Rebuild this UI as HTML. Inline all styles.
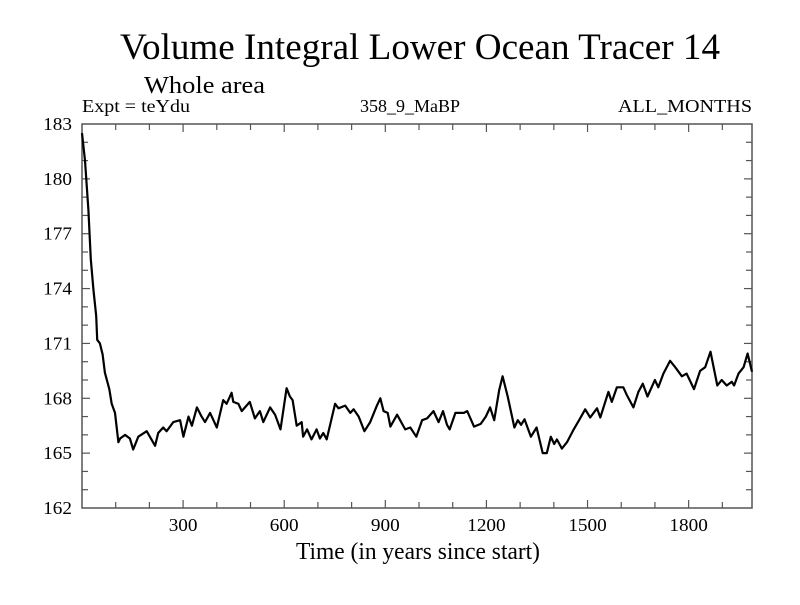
<!DOCTYPE html>
<html><head><meta charset="utf-8"><style>
body{margin:0;background:#fff;}
svg text{font-family:"Liberation Serif",serif;fill:#000;}
</style></head><body>
<svg id="chart" width="800" height="600" viewBox="0 0 800 600">
<text x="120" y="59" font-size="37" textLength="600" lengthAdjust="spacingAndGlyphs">Volume Integral Lower Ocean Tracer 14</text>
<text x="144" y="93" font-size="24" textLength="121" lengthAdjust="spacingAndGlyphs">Whole area</text>
<text x="82" y="112" font-size="18" textLength="108" lengthAdjust="spacingAndGlyphs">Expt = teYdu</text>
<text x="360" y="112" font-size="18" textLength="100" lengthAdjust="spacingAndGlyphs">358_9_MaBP</text>
<text x="618" y="112" font-size="18" textLength="134" lengthAdjust="spacingAndGlyphs">ALL_MONTHS</text>
<text x="296" y="559" font-size="24" textLength="244" lengthAdjust="spacingAndGlyphs">Time (in years since start)</text>
<g id="axes"></g>
<rect x="82" y="124" width="670" height="384" fill="none" stroke="#555" stroke-width="1.5"/>
<path id="series" fill="none" stroke="#000" stroke-width="2.2" stroke-linejoin="round"/>
</svg>
<script>
const years=[0,9,19,26,34,42,45,53,61,68,81,88,98,108,113,128,142,152,167,192,217,226,241,251,271,291,301,316,326,341,355,365,380,400,419,429,444,449,464,474,498,513,528,538,558,573,589,607,617,625,637,652,656,668,681,696,706,716,726,751,761,781,796,806,821,838,855,875,885,895,907,915,935,959,974,992,1009,1024,1043,1058,1071,1083,1091,1108,1133,1143,1163,1183,1198,1211,1223,1238,1248,1263,1283,1293,1303,1313,1332,1349,1367,1379,1391,1401,1409,1424,1439,1459,1478,1493,1508,1528,1538,1562,1572,1587,1606,1616,1636,1651,1664,1678,1700,1710,1725,1745,1760,1780,1794,1816,1834,1849,1865,1885,1898,1913,1928,1935,1948,1963,1975,1988];
const values=[182.5,181.0,178.3,175.6,173.9,172.5,171.2,171.0,170.4,169.4,168.5,167.7,167.2,165.6,165.8,166.0,165.8,165.2,165.9,166.2,165.4,166.1,166.4,166.2,166.7,166.8,165.9,167.0,166.5,167.5,167.0,166.7,167.2,166.4,167.9,167.7,168.3,167.8,167.7,167.3,167.8,166.9,167.3,166.7,167.5,167.1,166.3,168.55,168.1,167.9,166.5,166.7,165.9,166.3,165.75,166.3,165.8,166.1,165.75,167.7,167.45,167.6,167.2,167.4,167.0,166.2,166.7,167.6,168.0,167.3,167.2,166.45,167.1,166.3,166.4,165.9,166.8,166.9,167.3,166.7,167.3,166.55,166.3,167.2,167.2,167.3,166.45,166.6,167.0,167.5,166.8,168.45,169.2,168.1,166.4,166.8,166.55,166.85,165.9,166.4,165.0,165.0,165.9,165.5,165.75,165.25,165.6,166.3,166.9,167.4,166.95,167.45,166.95,168.35,167.8,168.6,168.6,168.2,167.5,168.35,168.8,168.1,169.0,168.6,169.35,170.05,169.7,169.2,169.35,168.5,169.5,169.7,170.55,168.7,169.0,168.7,168.9,168.7,169.35,169.7,170.45,169.45];
const xTicks=[300,600,900,1200,1500,1800];
const yTicks=[162,165,168,171,174,177,180,183];
const X0=82,X1=752,Y0=124,Y1=508,XMIN=0,XMAX=1988,YMIN=162,YMAX=183;
const sx=v=>X0+(v-XMIN)/(XMAX-XMIN)*(X1-X0);
const sy=v=>Y1-(v-YMIN)/(YMAX-YMIN)*(Y1-Y0);
const NS='http://www.w3.org/2000/svg';
const ax=document.getElementById('axes');
function line(x1,y1,x2,y2){const l=document.createElementNS(NS,'line');l.setAttribute('x1',x1);l.setAttribute('y1',y1);l.setAttribute('x2',x2);l.setAttribute('y2',y2);l.setAttribute('stroke','#555');l.setAttribute('stroke-width','1.2');


ax.appendChild(l);}
for(let t=100;t<XMAX;t+=100){const x=sx(t);const L=(t%300===0)?8:6;line(x,Y1,x,Y1-L);line(x,Y0,x,Y0+L);}
for(let v=YMIN+1;v<YMAX;v++){const y=sy(v);const L=(v%3===0)?8:6;line(X0,y,X0+L,y);line(X1,y,X1-L,y);}
xTicks.forEach(t=>{const e=document.createElementNS(NS,'text');const s=String(t);e.setAttribute('x',sx(t)-s.length*4.8);e.setAttribute('y',Y1+23);e.setAttribute('font-size','18');e.setAttribute('textLength',s.length*9.6);e.setAttribute('lengthAdjust','spacingAndGlyphs');e.textContent=s;


ax.appendChild(e);});
yTicks.forEach(v=>{const e=document.createElementNS(NS,'text');const s=String(v);e.setAttribute('x',X0-10-s.length*9.6);e.setAttribute('y',sy(v)+6);e.setAttribute('font-size','18');e.setAttribute('textLength',s.length*9.6);e.setAttribute('lengthAdjust','spacingAndGlyphs');e.textContent=s;


ax.appendChild(e);});
document.getElementById('series').setAttribute('d',years.map((t,i)=>(i?'L':'M')+sx(t).toFixed(1)+','+sy(values[i]).toFixed(1)).join(' '));
</script>
</body></html>
